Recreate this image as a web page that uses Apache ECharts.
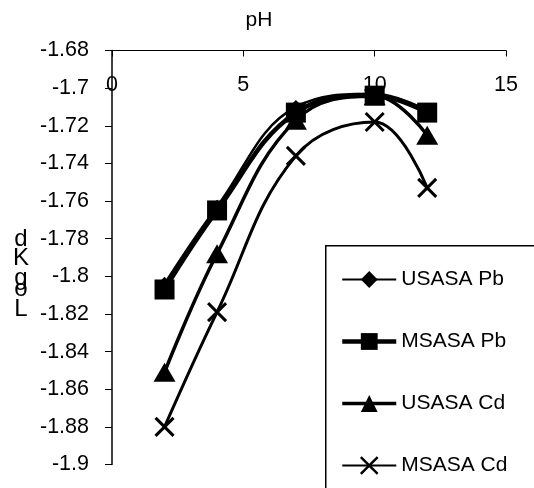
<!DOCTYPE html>
<html>
<head>
    <meta charset="utf-8">
    <title>Log Kd vs pH</title>
    <script src="https://cdn.jsdelivr.net/npm/echarts@6/dist/echarts.min.js"></script>
</head>
<body style="margin:0">
<div id="main" style="width: 534px;height:488px;"></div>
<script type="text/javascript">
    // data
    var ph = [2, 4, 7, 10, 12];
    var usasaPb = [-1.804, -1.763, -1.710, -1.703, -1.712];
    var msasaPb = [-1.807, -1.765, -1.713, -1.704, -1.713];
    var usasaCd = [-1.851, -1.788, -1.717, -1.704, -1.725];
    var msasaCd = [-1.880, -1.819, -1.736, -1.718, -1.753];
    var seriesNames = ['USASA Pb', 'MSASA Pb', 'USASA Cd', 'MSASA Cd'];
    var xTicks = {min: 0, max: 15, step: 5};
    var yTicks = {min: -1.9, max: -1.68, step: 0.02};

    var FONT = 'Liberation Sans, Arial, sans-serif';
    var myChart = echarts.init(document.getElementById('main'));

    function pairs(vals) {
        var out = [];
        for (var i = 0; i < ph.length; i++) {
            out.push([ph[i], vals[i]]);
        }
        return out;
    }

    var crossPath = 'path://M0,0L10,10M10,0L0,10';

    // stacked letters of the y title, as drawn in the original
    var yTitle = [['d', 239], ['K', 258], ['g', 278], ['o', 289], ['L', 309]];
    var graphics = [
        {
            type: 'rect', left: 325, top: 245, z: 1,
            shape: {width: 260, height: 300},
            style: {fill: '#fff', stroke: '#000', lineWidth: 1.5}
        },
        {
            type: 'text', x: 259, y: 20, z: 5,
            style: {text: 'pH', font: '21px ' + FONT, fill: '#000', align: 'center', verticalAlign: 'middle'}
        }
    ];
    for (var k = 0; k < yTitle.length; k++) {
        graphics.push({
            type: 'text', x: 21, y: yTitle[k][1], z: 5,
            style: {text: yTitle[k][0], font: '24px ' + FONT, fill: '#000', align: 'center', verticalAlign: 'middle'}
        });
    }

    var option = {
        animation: false,
        backgroundColor: '#fff',
        textStyle: {fontFamily: FONT, color: '#000'},
        grid: {left: 112, right: 28, top: 50.5, bottom: 23.5},
        graphic: graphics,
        legend: {
            orient: 'vertical',
            left: 335,
            top: 264,
            itemWidth: 54,
            itemHeight: 21,
            itemGap: 41,
            textStyle: {fontSize: 21, color: '#000', fontFamily: FONT},
            data: [
                {name: seriesNames[0], lineStyle: {width: 1.8}},
                {name: seriesNames[1], lineStyle: {width: 4.5}},
                {name: seriesNames[2], lineStyle: {width: 3.7}},
                {name: seriesNames[3], lineStyle: {width: 1.8}, itemStyle: {borderWidth: 2.5}}
            ]
        },
        xAxis: {
            type: 'value',
            position: 'top',
            min: xTicks.min,
            max: xTicks.max,
            interval: xTicks.step,
            axisLine: {onZero: false, lineStyle: {color: '#000', width: 1}},
            axisTick: {inside: true, length: 6, lineStyle: {color: '#000'}},
            axisLabel: {inside: true, margin: 24, fontSize: 21.5, color: '#000', fontFamily: FONT},
            splitLine: {show: false}
        },
        yAxis: {
            type: 'value',
            min: yTicks.min,
            max: yTicks.max,
            interval: yTicks.step,
            axisLine: {show: true, onZero: false, lineStyle: {color: '#000', width: 1.5}},
            axisTick: {show: true, length: 7, lineStyle: {color: '#000'}},
            axisLabel: {margin: 23, fontSize: 21.5, color: '#000', fontFamily: FONT},
            splitLine: {show: false}
        },
        series: [
            {
                name: seriesNames[0], type: 'line', smooth: 0.4, data: pairs(usasaPb),
                symbol: 'diamond', symbolSize: 14,
                itemStyle: {color: '#000'}, lineStyle: {color: '#000', width: 2.5}
            },
            {
                name: seriesNames[1], type: 'line', smooth: 0.4, data: pairs(msasaPb),
                symbol: 'rect', symbolSize: 20,
                itemStyle: {color: '#000'}, lineStyle: {color: '#000', width: 4.5}
            },
            {
                name: seriesNames[2], type: 'line', smooth: 0.4, data: pairs(usasaCd),
                symbol: 'triangle', symbolSize: [22, 19],
                itemStyle: {color: '#000'}, lineStyle: {color: '#000', width: 3.5}
            },
            {
                name: seriesNames[3], type: 'line', smooth: 0.4, data: pairs(msasaCd),
                symbol: crossPath, symbolSize: 18,
                itemStyle: {color: 'transparent', borderColor: '#000', borderWidth: 3},
                lineStyle: {color: '#000', width: 3}
            }
        ]
    };
    myChart.setOption(option);
</script>
</body>
</html>
